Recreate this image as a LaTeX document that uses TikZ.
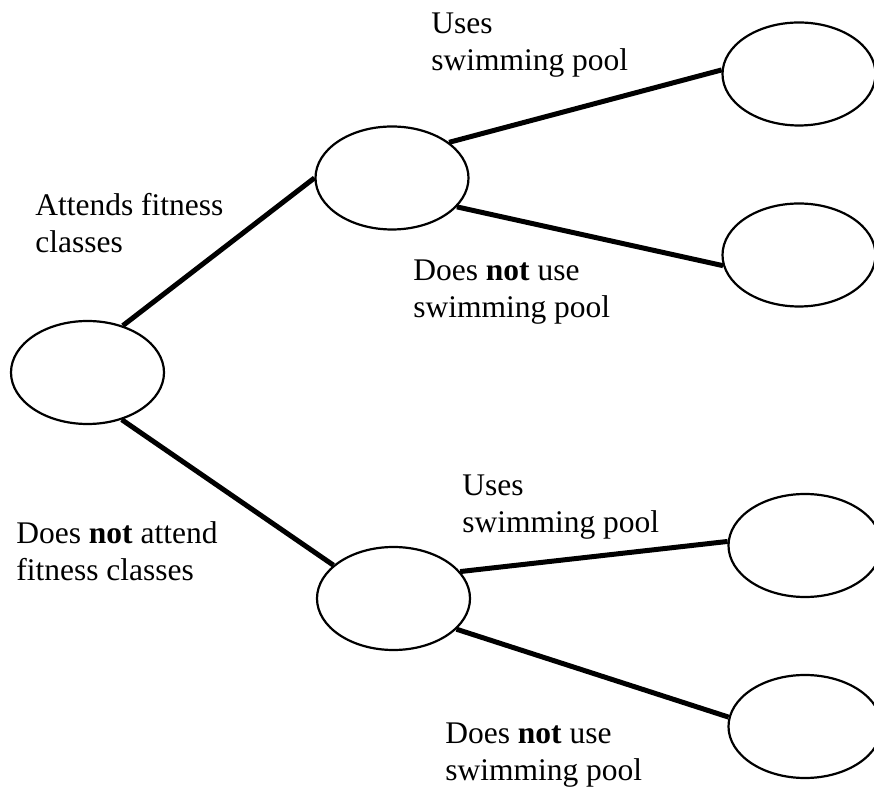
\documentclass[tikz,border=0pt]{standalone}
\usepackage{fontspec}
\setmainfont{Liberation Serif}
\usetikzlibrary{positioning,shapes,automata}

\begin{document}
\begin{tikzpicture}[x=1pt,y=1pt,auto,node distance=181pt,semithick]
  \tikzstyle{every state}=[ellipse,draw,line width=2.2pt,minimum width=153pt,minimum height=103pt,inner sep=0pt]
  \tikzstyle{branch}=[anchor=base west,align=left,inner sep=0pt,font=\fontsize{31.5}{37}\selectfont]
  \tikzstyle{link}=[draw,line width=5pt]
  \useasboundingbox (0,0) rectangle (874,789);

  \node[state] (A) at (87.5,416.5)    {};
  \node[state] (B1) at (392,611)      {};
  \node[state] (B2) at (393.5,190.5)  {};
  \node[state] (C1) at (799,715)      {};
  \node[state] (C2) [below of= C1]    {};
  \node[state] (C3) at (805,243.5)    {};
  \node[state] (C4) [below of= C3]    {};

  \node[branch] (L1) at (35,536)  {Attends fitness\\classes};
  \node[branch] (L2) at (16,208)  {Does \textbf{not} attend\\fitness classes};
  \node[branch] (L3) at (431,718) {Uses\\swimming pool};
  \node[branch] (L4) at (413,471) {Does \textbf{not} use\\swimming pool};
  \node[branch] (L5) at (462,256) {Uses\\swimming pool};
  \node[branch] (L6) at (445,9)   {Does \textbf{not} use\\swimming pool};

  \path[link] (A.53) -- (B1.west);
  \path[link] (A.-54) -- (B2.151);
  \path[link] (B1.32) -- (C1.177);
  \path[link] (B1.-24) -- (C2.188);
  \path[link] (B2.22) -- (C3.177);
  \path[link] (B2.-26) -- (C4.173);
\end{tikzpicture}
\end{document}
